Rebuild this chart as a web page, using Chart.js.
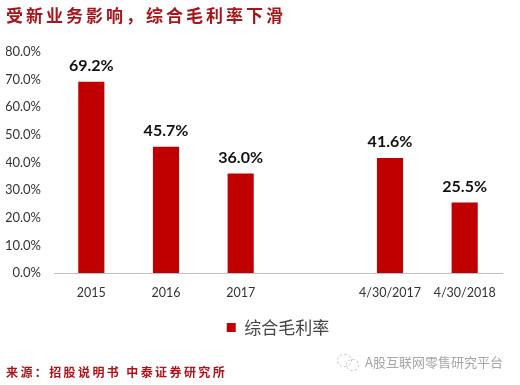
<html>
<head>
  <style>
    html, body { margin: 0; padding: 0; background: #fff; overflow: hidden; }
    #wrap { position: relative; width: 520px; height: 385px; }
    .txt { position: absolute; white-space: nowrap; font-family: "Noto Sans CJK SC", sans-serif; }
    #title { left: 6px; top: 3px; font-size: 17px; font-weight: bold; color: #a5161c; letter-spacing: 3px; line-height: 24px; }
    #source { left: 6px; top: 363px; font-size: 12px; font-weight: bold; color: #b01018; letter-spacing: 2.4px; line-height: 18px; }
    #mark { left: 365px; top: 353px; font-size: 13px; color: #a6a6a6; line-height: 18px; }
    .bubble { position: absolute; border: 1px dashed #c4c4c4; border-radius: 50%; }
  </style>
  <script src="https://cdn.jsdelivr.net/npm/chart.js"></script>
</head>
<body>
<div id="wrap">
  <canvas id="myChart" width="520" height="385"></canvas>
  <div class="txt" id="title">受新业务影响，综合毛利率下滑</div>
  <div class="txt" id="source">来源：招股说明书 中泰证券研究所</div>
  <div class="txt" id="mark">A股互联网零售研究平台</div>
  <div class="bubble" style="left:337px;top:354px;width:13px;height:11px"></div>
  <div class="bubble" style="left:346px;top:359px;width:11px;height:10px"></div>
</div>
<script>
  var categories = ['2015', '2016', '2017', '', '4/30/2017', '4/30/2018'];
  var margin = [69.2, 45.7, 36.0, null, 41.6, 25.5];
  var seriesName = '综合毛利率';
  var yTicks = [0, 10, 20, 30, 40, 50, 60, 70, 80];

  // values above the bars
  var barLabels = {
    id: 'barLabels',
    afterDatasetsDraw: function(chart) {
      var c = chart.ctx;
      c.save();
      c.font = 'bold 16px Lato, sans-serif';
      c.fillStyle = '#111';
      c.textAlign = 'center';
      c.textBaseline = 'bottom';
      chart.getDatasetMeta(0).data.forEach(function(bar, i) {
        if (margin[i] === null) return;
        c.fillText(margin[i].toFixed(1) + '%', bar.x, bar.y - 8);
      });
      c.restore();
    }
  };

  new Chart(document.getElementById('myChart'), {
    type: 'bar',
    data: {
      labels: categories,
      datasets: [{
        label: seriesName,
        data: margin,
        backgroundColor: '#c00000',
        categoryPercentage: 1,
        barPercentage: 0.35
      }]
    },
    plugins: [barLabels],
    options: {
      responsive: false,
      animation: false,
      layout: { padding: { left: 6, right: 18, top: 52, bottom: 39 } },
      plugins: {
        title: { display: false },
        tooltip: { enabled: false },
        legend: {
          position: 'bottom',
          fullSize: false,
          labels: {
            boxWidth: 9,
            boxHeight: 9,
            padding: 15,
            color: '#444',
            font: { size: 17, family: '"Noto Sans CJK SC", sans-serif' }
          }
        }
      },
      scales: {
        x: {
          grid: { display: false },
          border: { color: '#bfbfbf' },
          ticks: { color: '#333', maxRotation: 0, autoSkip: false, padding: 4, font: { size: 12.5, family: 'Lato, sans-serif' } }
        },
        y: {
          min: 0,
          max: 80,
          afterBuildTicks: function(axis) {
            axis.ticks = yTicks.map(function(v) { return { value: v }; });
          },
          afterFit: function(axis) { axis.width = 48; },
          grid: { display: false, drawTicks: false },
          border: { display: false },
          ticks: {
            color: '#333',
            padding: 13,
            font: { size: 13, family: 'Lato, sans-serif' },
            callback: function(v) { return v.toFixed(1) + '%'; }
          }
        }
      }
    }
  });
</script>
</body>
</html>
